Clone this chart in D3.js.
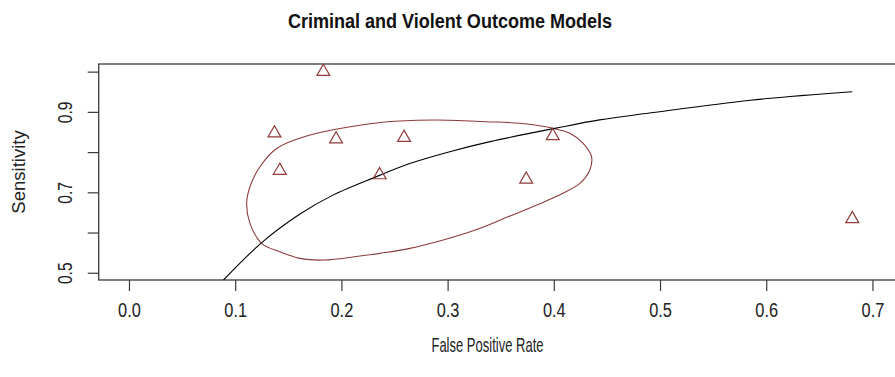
<!DOCTYPE html>
<html><head><meta charset="utf-8">
<script src="https://cdn.jsdelivr.net/npm/d3@7"></script>
<style>body{margin:0;background:#fff}svg{display:block}</style>
</head><body><svg id="c" width="895" height="377"></svg>
<script>
// ---- data ----
const studyFPR  = [0.137, 0.142, 0.183, 0.195, 0.236, 0.259, 0.374, 0.399, 0.681];
const studySens = [0.847, 0.754, 1.000, 0.832, 0.743, 0.836, 0.732, 0.840, 0.634];

const srocFPR  = [0.089, 0.125, 0.161, 0.192, 0.233, 0.265, 0.302, 0.340, 0.401, 0.443, 0.490, 0.585, 0.681];
const srocSens = [0.482, 0.575, 0.646, 0.693, 0.739, 0.772, 0.801, 0.826, 0.859, 0.880, 0.897, 0.929, 0.950];

const regionFPR  = [0.1108,0.1139,0.1233,0.1390,0.1673,0.2252,0.2551,0.2896,0.3367,0.3680,0.3994,0.4151,0.4276,0.4355,0.4339,0.4245,0.4085,0.3869,0.3586,0.3273,0.2958,0.2645,0.2363,0.2174,0.1829,0.1610,0.1421,0.1249,0.1139];
const regionSens = [0.6726,0.7139,0.7637,0.8090,0.8400,0.8699,0.8774,0.8799,0.8756,0.8716,0.8592,0.8468,0.8219,0.7886,0.7555,0.7220,0.6975,0.6715,0.6410,0.6075,0.5813,0.5607,0.5483,0.5415,0.5316,0.5358,0.5522,0.5731,0.6229];

const xTicks = [0, 0.1, 0.2, 0.3, 0.4, 0.5, 0.6, 0.7];
const xTickLabels = ["0.0","0.1","0.2","0.3","0.4","0.5","0.6","0.7"];
const yTicks = [0.5, 0.6, 0.7, 0.8, 0.9, 1.0];
const yTickLabels = ["0.5","","0.7","","0.9",""];
const xLim = [-0.0285, 0.741];
const yLim = [0.482, 1.019];

const titleText = "Criminal and Violent Outcome Models";
const xTitle = "False Positive Rate";
const yTitle = "Sensitivity";

// ---- layout ----
const L = 98.7, R = 916, T = 64, B = 280;
const font = "'Liberation Sans', Arial, sans-serif";
const red = "#8e3b3b";

const svg = d3.select("#c");
const x = d3.scaleLinear().domain(xLim).range([L, R]);
const y = d3.scaleLinear().domain(yLim).range([B, T]);

svg.append("defs").append("clipPath").attr("id","clip")
  .append("rect").attr("x",L).attr("y",T).attr("width",R-L).attr("height",B-T);

// box
svg.append("rect").attr("x",L).attr("y",T).attr("width",R-L).attr("height",B-T)
  .attr("fill","none").attr("stroke","#3a3a3a").attr("stroke-width",1.3);

// axes
const xa = svg.append("g").attr("transform",`translate(0,${B})`)
  .call(d3.axisBottom(x).tickValues(xTicks).tickSize(11).tickPadding(12)
        .tickFormat((d,i)=>xTickLabels[i]));
xa.select(".domain").remove();
xa.selectAll("line").attr("stroke","#3a3a3a").attr("stroke-width",1.2);
xa.selectAll("text").attr("font-family",font).attr("font-size","21px").attr("fill","#222")
  .attr("y",null).attr("dy",null)
  .attr("transform","translate(0,37) scale(0.78,1)");

const ya = svg.append("g").attr("transform",`translate(${L},0)`)
  .call(d3.axisLeft(y).tickValues(yTicks).tickSize(11)
        .tickFormat((d,i)=>yTickLabels[i]));
ya.select(".domain").remove();
ya.selectAll("line").attr("stroke","#3a3a3a").attr("stroke-width",1.2);
ya.selectAll("text").attr("font-family",font).attr("font-size","20px").attr("fill","#222")
  .attr("x",null).attr("dy",null).attr("text-anchor","middle")
  .attr("transform","translate(-27,0) rotate(-90) scale(0.78,1)");

// plot contents
const g = svg.append("g").attr("clip-path","url(#clip)");

const region = regionFPR.map((v,i)=>[v, regionSens[i]]);
g.append("path").datum(region)
  .attr("d", d3.line().x(d=>x(d[0])).y(d=>y(d[1])).curve(d3.curveCatmullRomClosed))
  .attr("fill","none").attr("stroke",red).attr("stroke-width",1.1);

const sroc = srocFPR.map((v,i)=>[v, srocSens[i]]);
g.append("path").datum(sroc)
  .attr("d", d3.line().x(d=>x(d[0])).y(d=>y(d[1])).curve(d3.curveCatmullRom))
  .attr("fill","none").attr("stroke","#000").attr("stroke-width",1.1);

const tri = d3.symbol().type(d3.symbolTriangle).size(72);
svg.append("g").selectAll("path").data(studyFPR.map((v,i)=>[v, studySens[i]])).join("path")
  .attr("d", tri)
  .attr("transform", d=>`translate(${x(d[0])},${y(d[1])})`)
  .attr("fill","none").attr("stroke",red).attr("stroke-width",1.2);

// titles
svg.append("text").attr("transform","translate(450,28) scale(0.88,1)").attr("text-anchor","middle")
  .attr("font-family",font).attr("font-weight","bold").attr("font-size","20.5px").attr("fill","#111")
  .text(titleText);
svg.append("text").attr("transform","translate(487.5,352) scale(0.62,1)").attr("text-anchor","middle")
  .attr("font-family",font).attr("font-size","21px").attr("fill","#222")
  .text(xTitle);
svg.append("text").attr("transform",`translate(25,${(T+B)/2}) rotate(-90)`).attr("text-anchor","middle")
  .attr("font-family",font).attr("font-size","18.5px").attr("fill","#222")
  .text(yTitle);
</script></body></html>
